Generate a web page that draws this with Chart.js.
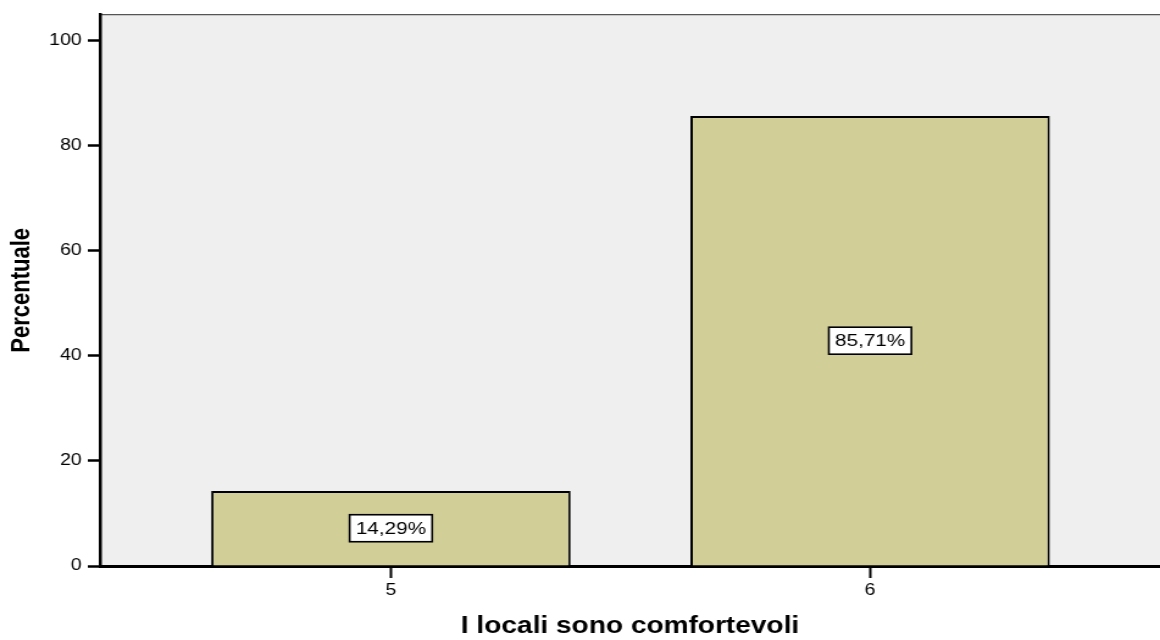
<!DOCTYPE html>
<html>
<head>
<meta charset="utf-8">
<script src="https://cdn.jsdelivr.net/npm/chart.js@4/dist/chart.umd.min.js"></script>
<style>
  body { margin: 0; background: #fff; overflow: hidden; }
  /* the original picture is stretched sideways, so draw narrow and widen */
  #wrap { width: 951px; height: 640px; transform: scaleX(1.2198); transform-origin: 0 0; }
</style>
</head>
<body>
<div id="wrap"><canvas id="mychart"></canvas></div>
<script>
// data
const categories = [5, 6];
const percents = [14.29, 85.71];
const valueLabels = ['14,29%', '85,71%'];
const yTicks = [0, 20, 40, 60, 80, 100];
const xTitle = 'I locali sono comfortevoli';
const yTitle = 'Percentuale';

const font = "'Liberation Sans', Arial, sans-serif";
const ctx = document.getElementById('mychart').getContext('2d');

// grey plot background + top border line
const plotBg = {
    id: 'plotBg',
    beforeDraw(chart) {
        const a = chart.chartArea, c = chart.ctx;
        c.save();
        c.fillStyle = '#efefef';
        c.fillRect(a.left, a.top, a.right - a.left, a.bottom - a.top);
        c.strokeStyle = '#555';
        c.lineWidth = 1.3;
        c.beginPath();
        c.moveTo(a.left, a.top);
        c.lineTo(a.right, a.top);
        c.stroke();
        c.restore();
    }
};

// boxed value labels in the middle of each bar
const boxLabels = {
    id: 'boxLabels',
    afterDatasetsDraw(chart) {
        const c = chart.ctx;
        const meta = chart.getDatasetMeta(0);
        c.save();
        c.font = '17px ' + font;
        c.textAlign = 'center';
        c.textBaseline = 'middle';
        meta.data.forEach((bar, i) => {
            const y = (bar.y + bar.base) / 2;
            const w = c.measureText(valueLabels[i]).width + 10;
            const h = 27;
            c.fillStyle = '#fff';
            c.fillRect(bar.x - w / 2, y - h / 2, w, h);
            c.strokeStyle = '#000';
            c.lineWidth = 1.6;
            c.strokeRect(bar.x - w / 2, y - h / 2, w, h);
            c.fillStyle = '#000';
            c.fillText(valueLabels[i], bar.x, y + 1);
        });
        c.restore();
    }
};

let points = categories.map((x, i) => ({ x: x, y: percents[i] }));

let myChart = new Chart(ctx, {
    type: 'bar',
    data: {
        datasets: [{
            data: points,
            backgroundColor: '#d2ce97',
            borderColor: '#000',
            borderWidth: 2,
            borderSkipped: 'bottom',
            barPercentage: 0.75,
            categoryPercentage: 1
        }]
    },
    options: {
        responsive: true,
        maintainAspectRatio: false,
        animation: false,
        layout: { padding: { top: 11, right: 0, left: 0, bottom: 0 } },
        plugins: { legend: { display: false }, tooltip: { enabled: false } },
        scales: {
            x: {
                type: 'linear',
                offset: false,
                min: 4.393,
                max: 6.605,
                afterBuildTicks: s => { s.ticks = categories.map(v => ({ value: v })); },
                afterFit: s => { s.height = 74; },
                grid: { offset: false, drawOnChartArea: false, drawTicks: true, tickLength: 12, tickColor: '#000', tickWidth: 2 },
                border: { color: '#000', width: 3 },
                ticks: { color: '#000', padding: 3, font: { family: font, size: 16 } },
                title: { display: true, text: xTitle, color: '#000', padding: 0, font: { family: font, size: 23, weight: 'bold' } }
            },
            y: {
                min: 0,
                max: 105,
                afterBuildTicks: s => { s.ticks = yTicks.map(v => ({ value: v })); },
                afterFit: s => { s.width = 82; },
                grid: { drawOnChartArea: false, drawTicks: true, tickLength: 10, tickColor: '#000', tickWidth: 2.5 },
                border: { color: '#000', width: 2.5 },
                ticks: { color: '#000', padding: 5, font: { family: font, size: 16 } },
                title: { display: true, text: yTitle, color: '#000', padding: { top: 5, bottom: 0 }, font: { family: font, size: 22, weight: 'bold' } }
            }
        }
    },
    plugins: [plotBg, boxLabels]
});
</script>
</body>
</html>
